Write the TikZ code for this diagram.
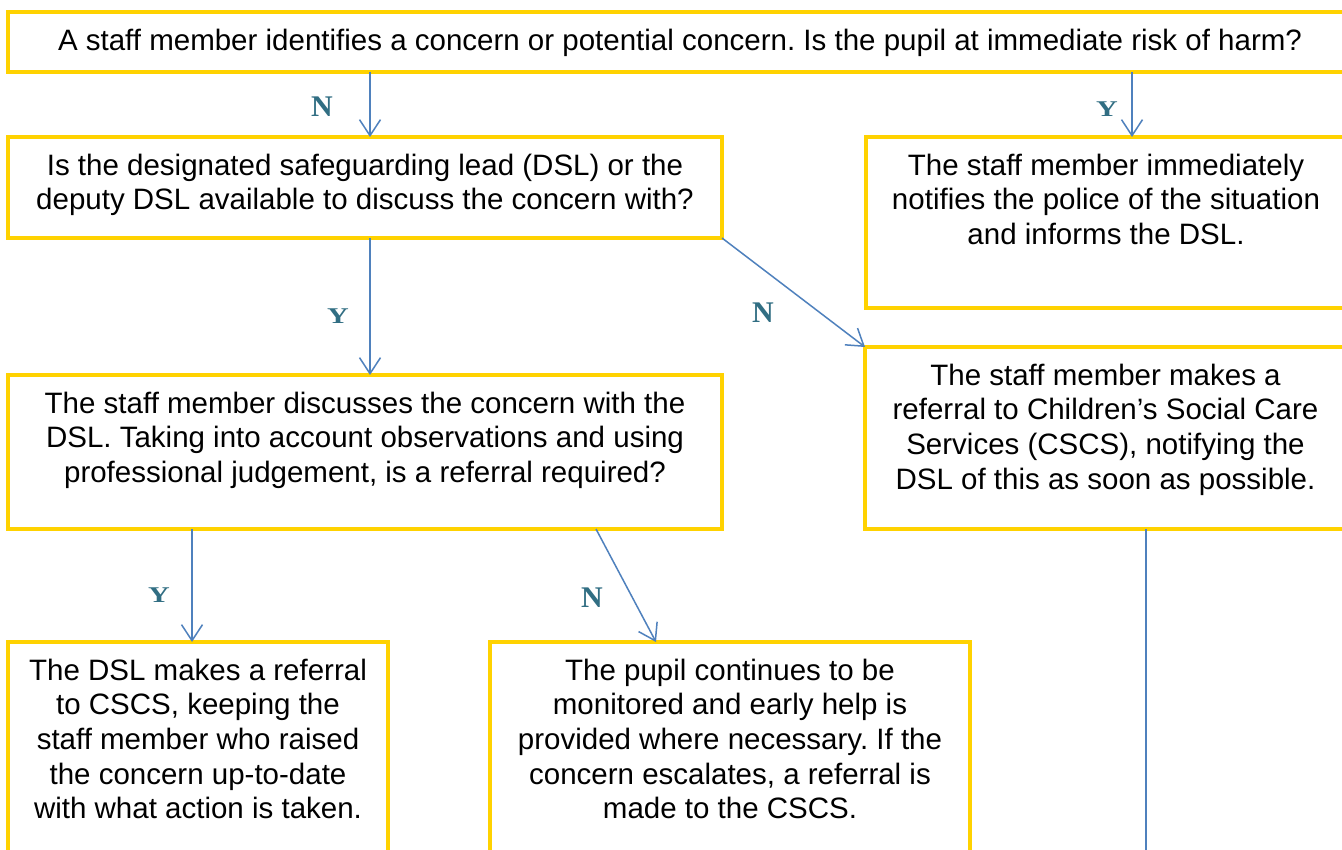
\documentclass[tikz,border=0pt]{standalone}
\usepackage{fontspec}
\setmainfont{Liberation Sans}
\newfontfamily\lblfont{Liberation Serif}
\usetikzlibrary{arrows.meta,fit}
\definecolor{gold}{HTML}{FFD200}
\definecolor{arrowblue}{HTML}{4F81BD}
\definecolor{lblteal}{HTML}{316E83}
\newcommand{\yeslbl}{\scalebox{1}[0.75]{Y}}
\frenchspacing
\begin{document}
\begin{tikzpicture}[x=1pt,y=-1pt,
  box/.style={draw=gold, line width=4pt, inner sep=0pt, outer sep=0pt},
  txt/.style={anchor=north, inner sep=0pt, align=center, font=\fontsize{29.5pt}{34.7pt}\selectfont},
  lbl/.style={anchor=base, inner sep=0pt, text=lblteal, font=\lblfont\bfseries\fontsize{30pt}{36pt}\selectfont},
  arr/.style={draw=arrowblue, line width=1.5pt, -{Straight Barb[length=16pt,width=21pt,line width=1.5pt]}},
  plain/.style={draw=arrowblue, line width=1.5pt}]
\useasboundingbox (0,0) rectangle (1342,850);
\clip (0,0) rectangle (1342,850);
\fill[white] (0,0) rectangle (1342,850);
% boxes
\node[box, fit={(8,12) (1352,72)}] (b1) {};
\node[box, fit={(8,137) (722,238)}] (b2) {};
\node[box, fit={(866,137) (1346,308)}] (b3) {};
\node[box, fit={(8,375) (722,529)}] (b4) {};
\node[box, fit={(865,347) (1346,529)}] (b5) {};
\node[box, fit={(8,642) (388,870)}] (b6) {};
\node[box, fit={(490,642) (970,870)}] (b7) {};
% texts
\node[txt] (t1) at ([yshift=-13.7pt]b1.north) {\strut A staff member identifies a concern or potential concern. Is the pupil at immediate risk of harm?};
\node[txt] (t2) at ([yshift=-13.7pt]b2.north) {\strut Is the designated safeguarding lead (DSL) or the\\deputy DSL available to discuss the concern with?};
\node[txt] (t3) at ([yshift=-13.7pt]b3.north) {\strut The staff member immediately\\notifies the police of the situation\\and informs the DSL.};
\node[txt] (t4) at ([yshift=-13.7pt]b4.north) {\strut The staff member discusses the concern with the\\DSL. Taking into account observations and using\\professional judgement, is a referral required?};
\node[txt] (t5) at ([yshift=-13.7pt]b5.north) {\strut The staff member makes a\\referral to Children’s Social Care\\Services (CSCS), notifying the\\DSL of this as soon as possible.};
\node[txt] (t6) at ([yshift=-13.7pt]b6.north) {\strut The DSL makes a referral\\to CSCS, keeping the\\staff member who raised\\the concern up-to-date\\with what action is taken.};
\node[txt] (t7) at ([yshift=-13.7pt]b7.north) {\strut The pupil continues to be\\monitored and early help is\\provided where necessary. If the\\concern escalates, a referral is\\made to the CSCS.};
% connectors
\draw[arr] (b1.south -| 370,0) -- (b2.north -| 370,0);
\draw[arr] (b1.south -| 1132,0) -- (b3.north -| 1132,0);
\draw[arr] (b2.south -| 370,0) -- (b4.north -| 370,0);
\draw[arr] (b2.south east) -- (b5.north west);
\draw[arr] (b4.south -| 596,0) -- (b7.north -| 656,0);
\draw[arr] (b4.south -| 192,0) -- (b6.north -| 192,0);
\coordinate (e5) at (1146,860);
\draw[plain] (b5.south -| e5) -- (e5);
% labels
\node[lbl] (l1) at (322,117) {N};
\node[lbl] (l2) at (1107,117) {\yeslbl};
\node[lbl] (l3) at (338,324) {\yeslbl};
\node[lbl] (l4) at (763,323) {N};
\node[lbl] (l5) at (159,602) {\yeslbl};
\node[lbl] (l6) at (592,607) {N};
\end{tikzpicture}
\end{document}
